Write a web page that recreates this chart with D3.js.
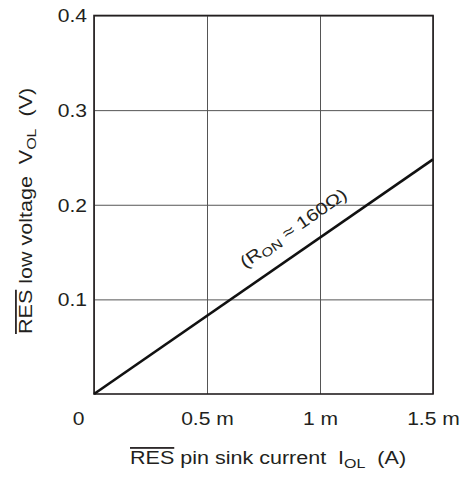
<!DOCTYPE html>
<html><head><meta charset="utf-8">
<script src="https://cdn.jsdelivr.net/npm/d3@7"></script>
<style>
body{margin:0;background:#fff;}
text{font-family:"Liberation Sans",Arial,sans-serif;fill:#231f20;white-space:pre;}
</style></head>
<body><svg id="c" width="463" height="477"></svg>
<script>
const currentA = [0, 0.0015];
const voltageV = [0, 0.248];
const xTickValues = [0, 0.0005, 0.001, 0.0015];
const xTickLabels = ["0", "0.5 m", "1 m", "1.5 m"];
const yTickValues = [0.1, 0.2, 0.3, 0.4];
const yTickLabels = ["0.1", "0.2", "0.3", "0.4"];

const svg = d3.select("#c");
const m = {l:94, r:30, t:15.5, b:83};
const W = 463 - m.l - m.r, H = 477 - m.t - m.b;
const x = d3.scaleLinear().domain([0, 0.0015]).range([0, W]);
const y = d3.scaleLinear().domain([0, 0.4]).range([H, 0]);
const g = svg.append("g").attr("transform", `translate(${m.l},${m.t})`);
const sT = 1.14; // horizontal stretch of tick label font
const sA = 1.23; // horizontal stretch of title font

// grid
const gx = g.append("g").attr("transform", `translate(0,${H})`)
  .call(d3.axisBottom(x).tickValues(xTickValues).tickSize(-H).tickPadding(0)
    .tickFormat((d,i)=>xTickLabels[i]));
gx.select(".domain").remove();
gx.selectAll("line").attr("stroke","#555").attr("stroke-width",1);
gx.selectAll("text").attr("font-size","18.5px").attr("y",31)
  .attr("x",(d,i)=>i===0?-16/sT:0).attr("dy",0)
  .attr("transform",`scale(${sT},1)`).style("fill","#231f20");

const gy = g.append("g")
  .call(d3.axisLeft(y).tickValues(yTickValues).tickSize(-W).tickPadding(8)
    .tickFormat((d,i)=>yTickLabels[i]));
gy.select(".domain").remove();
gy.selectAll("line").attr("stroke","#555").attr("stroke-width",1);
gy.selectAll("text").attr("font-size","18.5px").attr("x",-7/sT).attr("dy","0.35em")
  .attr("transform",`scale(${sT},1)`).style("fill","#231f20");

// frame
g.append("rect").attr("x",0).attr("y",0).attr("width",W).attr("height",H)
  .attr("fill","none").attr("stroke","#231f20").attr("stroke-width",1.6);

// data line
const pts = currentA.map((c,i)=>[c, voltageV[i]]);
g.append("path").datum(pts)
  .attr("d", d3.line().x(d=>x(d[0])).y(d=>y(d[1])))
  .attr("fill","none").attr("stroke","#111").attr("stroke-width",2.6);

// annotation
const ang = Math.atan2(y(voltageV[0]) - y(voltageV[1]), x(currentA[1]) - x(currentA[0])) * 180/Math.PI;
const ax = 0.00094, ayv = voltageV[1] * ax / currentA[1];
const ann = g.append("text")
  .attr("transform", `translate(${x(ax)},${y(ayv)}) rotate(${-ang}) scale(${sA},1)`)
  .attr("text-anchor","middle").attr("y",-17).attr("font-size","17px");
ann.append("tspan").text("(R");
ann.append("tspan").attr("font-size","12.5px").attr("dy",3).text("ON");
ann.append("tspan").attr("dy",-3).text(" \u2248 160\u03A9)");

// x title
const xt = svg.append("text").attr("transform",`translate(130,464) scale(${sA},1)`).attr("font-size","17.5px");
xt.append("tspan").style("text-decoration","overline").text("RES");
xt.append("tspan").text(" pin sink current  I");
xt.append("tspan").attr("font-size","13px").attr("dy",4).text("OL");
xt.append("tspan").attr("dy",-4).text("  (A)");

// y title
const yt = svg.append("text").attr("transform",`translate(32,334) rotate(-90) scale(${sA},1)`).attr("font-size","17.5px");
yt.append("tspan").style("text-decoration","overline").text("RES");
yt.append("tspan").text(" low voltage  V");
yt.append("tspan").attr("font-size","13px").attr("dy",4).text("OL");
yt.append("tspan").attr("dy",-4).text("  (V)");
</script></body></html>
